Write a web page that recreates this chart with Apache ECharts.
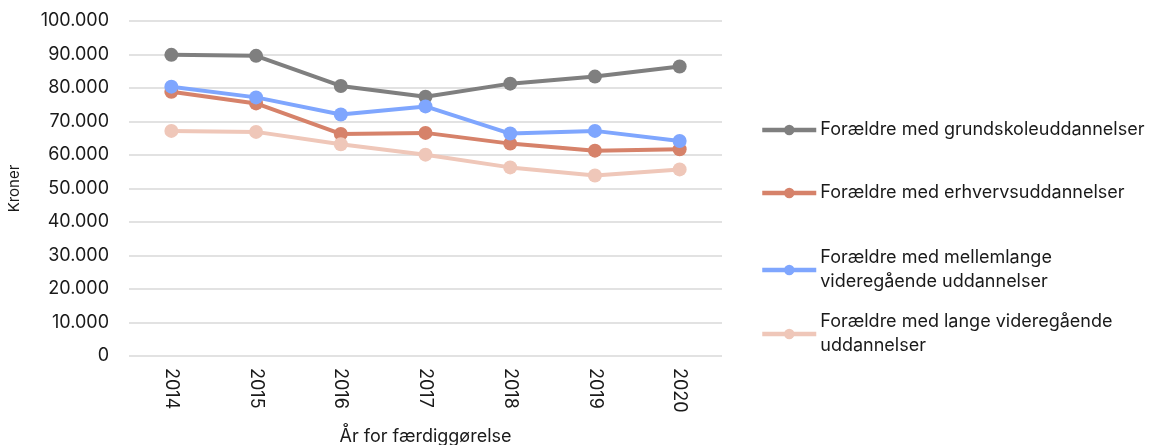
<!DOCTYPE html>
<html><head><meta charset="utf-8">
<script src="https://cdn.jsdelivr.net/npm/echarts@6/dist/echarts.min.js"></script>
<style>html,body{margin:0;padding:0;background:#fff}#c{width:1151px;height:445px}</style>
</head><body><div id="c"></div>
<script>
const categories = ['2014','2015','2016','2017','2018','2019','2020'];
const seriesNames = [
  'Forældre med grundskoleuddannelser',
  'Forældre med erhvervsuddannelser',
  'Forældre med mellemlange\nvideregående uddannelser',
  'Forældre med lange videregående\nuddannelser'
];
const grundskole = [89900, 89600, 80600, 77400, 81300, 83400, 86400];
const erhverv = [78900, 75400, 66300, 66600, 63400, 61300, 61700];
const mellemlange = [80400, 77200, 72100, 74500, 66400, 67200, 64200];
const lange = [67200, 66900, 63200, 60100, 56300, 53900, 55700];
const colors = ['#7f7f7f', '#d6826a', '#7fa6fe', '#efc7b9'];
const values = [grundskole, erhverv, mellemlange, lange];

const font = 'Inter, "DejaVu Sans", sans-serif';
const chart = echarts.init(document.getElementById('c'), null, {renderer:'canvas'});
const legendTops = [113, 176, 241, 305];
chart.setOption({
  animation: false,
  textStyle: {fontFamily: font},
  grid: {left: 129, right: 1151-722, top: 21, bottom: 445-356, outerBoundsMode: 'none', containLabel: false},
  xAxis: {
    type: 'category', data: categories, boundaryGap: true,
    axisLine: {show: false}, axisTick: {show: false},
    axisLabel: {rotate: -90, color: '#1a1a1a', fontSize: 18, fontFamily: font, margin: 12},
    name: 'År for færdiggørelse', nameLocation: 'middle', nameGap: 72, nameMoveOverlap: false,
    nameTextStyle: {color: '#1a1a1a', fontSize: 18, fontFamily: font}
  },
  yAxis: {
    type: 'value', min: 0, max: 100000, interval: 10000,
    axisLine: {show: false}, axisTick: {show: false},
    splitLine: {lineStyle: {color: '#d9d9d9', width: 1.5}},
    axisLabel: {color: '#1a1a1a', fontSize: 18, fontFamily: font, margin: 20,
      formatter: v => v === 0 ? '0' : v.toLocaleString('de-DE')},
    name: 'Kroner', nameLocation: 'middle', nameGap: 107, nameRotate: 90, nameMoveOverlap: false,
    nameTextStyle: {color: '#1a1a1a', fontSize: 15, fontFamily: font}
  },
  legend: seriesNames.map((n, i) => ({
    data: [n], orient: 'vertical', left: 755, top: legendTops[i],
    itemWidth: 54, itemHeight: 13, itemGap: 0,
    lineStyle: {width: 4.5},
    textStyle: {color: '#1a1a1a', fontSize: 18, fontFamily: font, lineHeight: 24, padding: [0,0,0,-1]},
    selectedMode: false
  })),
  series: seriesNames.map((n, i) => ({
    name: n, type: 'line', data: values[i],
    color: colors[i],
    lineStyle: {width: 4, color: colors[i]},
    itemStyle: {color: colors[i]},
    symbol: 'circle', symbolSize: 14, showSymbol: true
  }))
});
</script></body></html>
